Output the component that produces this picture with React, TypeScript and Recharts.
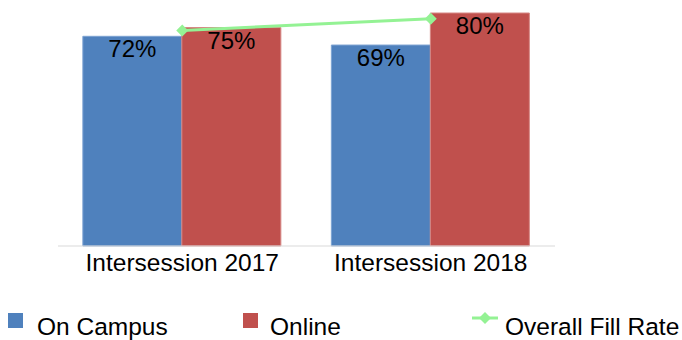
import { ComposedChart, Bar, Line, XAxis, YAxis, Legend, LabelList } from "recharts";

const terms = ["Intersession 2017", "Intersession 2018"];
const onCampus = [72, 69];
const online = [75, 80];
const overallFillRate = [74, 78];

const data = terms.map((term, i) => ({
  term,
  onCampus: onCampus[i],
  online: online[i],
  overall: overallFillRate[i],
}));

const FONT = "'Liberation Sans', Arial, sans-serif";
const GREEN = "#94F294";

const Diamond = (props: any) => {
  const { cx, cy } = props;
  if (cx == null || cy == null) return null;
  const r = 6;
  return (
    <path
      d={`M${cx},${cy - r} L${cx + r},${cy} L${cx},${cy + r} L${cx - r},${cy} Z`}
      fill={GREEN}
    />
  );
};

const LegendContent = () => (
  <div style={{ position: "relative", width: 682, height: 30, fontFamily: FONT, fontSize: 24.5, color: "#000" }}>
    <div style={{ position: "absolute", left: 8, top: 3, width: 15, height: 15, background: "#4F81BD" }} />
    <span style={{ position: "absolute", left: 37, top: 2, lineHeight: "30px" }}>On Campus</span>
    <div style={{ position: "absolute", left: 243, top: 3, width: 15, height: 15, background: "#C0504D" }} />
    <span style={{ position: "absolute", left: 270, top: 2, lineHeight: "30px" }}>Online</span>
    <svg style={{ position: "absolute", left: 472, top: -2 }} width={26} height={20}>
      <line x1={0} y1={10} x2={26} y2={10} stroke={GREEN} strokeWidth={3} />
      <path d="M13,4 L19,10 L13,16 L7,10 Z" fill={GREEN} />
    </svg>
    <span style={{ position: "absolute", left: 505, top: 2, lineHeight: "30px" }}>Overall Fill Rate</span>
  </div>
);

export default function App() {
  return (
    <div style={{ position: "absolute", left: 0, top: 0, width: 682, height: 340, background: "#fff" }}>
      <ComposedChart
        width={682}
        height={340}
        data={data}
        margin={{ top: 13, right: 127, left: 58, bottom: 30 }}
        barCategoryGap="10%"
        barGap={0}
      >
        <XAxis
          dataKey="term"
          axisLine={{ stroke: "#D9D9D9" }}
          tickLine={false}
          tick={{ fill: "#000", fontSize: 24.5, fontFamily: FONT }}
          height={34}
        />
        <YAxis hide domain={[0, 80]} />
        <Legend verticalAlign="bottom" content={<LegendContent />} wrapperStyle={{ left: 0, bottom: 0, width: 682 }} />
        <Bar dataKey="onCampus" name="On Campus" fill="#4F81BD" stroke="#7EA3D2" strokeWidth={1} isAnimationActive={false}>
          <LabelList
            dataKey="onCampus"
            position="insideTop"
            offset={4}
            formatter={(v: any) => `${v}%`}
            style={{ fill: "#000", fontSize: 24, fontFamily: FONT }}
          />
        </Bar>
        <Bar dataKey="online" name="Online" fill="#C0504D" stroke="#D68784" strokeWidth={1} isAnimationActive={false}>
          <LabelList
            dataKey="online"
            position="insideTop"
            offset={4}
            formatter={(v: any) => `${v}%`}
            style={{ fill: "#000", fontSize: 24, fontFamily: FONT }}
          />
        </Bar>
        <Line
          dataKey="overall"
          name="Overall Fill Rate"
          stroke={GREEN}
          strokeWidth={3}
          dot={<Diamond />}
          activeDot={false}
          isAnimationActive={false}
        />
      </ComposedChart>
    </div>
  );
}
